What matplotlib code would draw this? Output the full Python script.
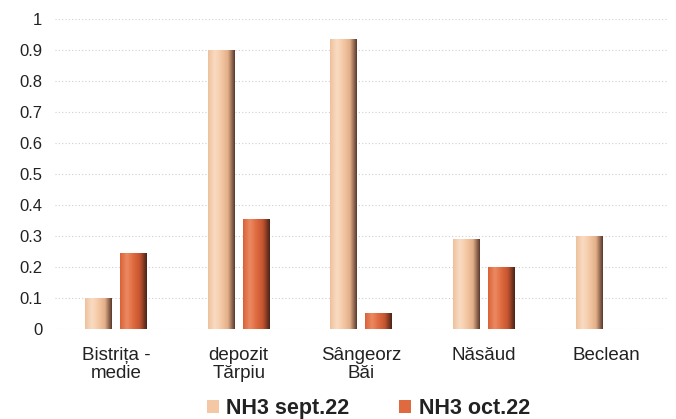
import numpy as np
import matplotlib
matplotlib.use("Agg")
import matplotlib.pyplot as plt
from matplotlib.colors import LinearSegmentedColormap

plt.rcParams['font.family'] = ['Liberation Sans', 'DejaVu Sans']

categories = ["Bistrița -\nmedie", "depozit\nTărpiu", "Sângeorz\nBăi", "Năsăud", "Beclean"]
series_names = ["NH3 sept.22", "NH3 oct.22"]
sept_values = [0.10, 0.90, 0.935, 0.29, 0.30]
oct_values = [0.245, 0.355, 0.05, 0.20, np.nan]
y_ticks = [0, 0.1, 0.2, 0.3, 0.4, 0.5, 0.6, 0.7, 0.8, 0.9, 1]
y_tick_labels = ["0", "0.1", "0.2", "0.3", "0.4", "0.5", "0.6", "0.7", "0.8", "0.9", "1"]

colors = ["#F4C8A4", "#DF6A40"]
cmaps = [
    LinearSegmentedColormap.from_list("s", ["#EFC19D", "#F9DCC3", "#F4C8A4", "#E2AE88", "#5A3A2C"]),
    LinearSegmentedColormap.from_list("o", ["#D9633A", "#EB8A62", "#DF6A40", "#C3532F", "#4A2418"]),
]

fig = plt.figure(figsize=(6.76, 4.19), dpi=100)
ax = fig.add_axes([0.081, 0.215, 0.907, 0.74])

x = np.arange(len(categories))
width = 0.22
offset = 0.1425
grad = np.linspace(0, 1, 64).reshape(1, -1)

for i, (vals, col, cm) in enumerate(zip([sept_values, oct_values], colors, cmaps)):
    pos = x + (offset if i else -offset)
    bars = ax.bar(pos, vals, width, color=col, edgecolor='none', zorder=3, label=series_names[i])
    for b in bars:
        h = b.get_height()
        if not np.isfinite(h) or h <= 0:
            continue
        x0 = b.get_x()
        im = ax.imshow(grad, cmap=cm, aspect='auto', extent=[x0, x0 + b.get_width(), 0, h],
                       zorder=4, interpolation='bilinear')
        im.set_clip_path(b)

ax.set_xlim(-0.5, len(categories) - 0.5)
ax.set_ylim(0, 1)
ax.set_yticks(y_ticks)
ax.set_yticklabels(y_tick_labels)
ax.set_xticks(x)
ax.set_xticklabels(categories, fontsize=13.5, color='#222222', linespacing=1.05)
ax.tick_params(axis='y', length=0, pad=9, labelsize=12, labelcolor='#222222')
ax.tick_params(axis='x', length=0, pad=13)
for s in ax.spines.values():
    s.set_visible(False)
ax.grid(axis='y', color='#cfcfcf', linestyle=(0, (1, 2)), linewidth=0.8, zorder=0)
ax.set_axisbelow(True)

handles, labels = ax.get_legend_handles_labels()
leg = fig.legend(handles, labels, loc='center', bbox_to_anchor=(0.545, 0.024), ncol=2,
                 frameon=False, prop={'weight': 'bold', 'size': 15.5},
                 handlelength=0.55, handleheight=0.55, handletextpad=0.35, columnspacing=2.3)
for t in leg.get_texts():
    t.set_color('#222222')

fig.savefig("out.png", dpi=100, facecolor='white')
